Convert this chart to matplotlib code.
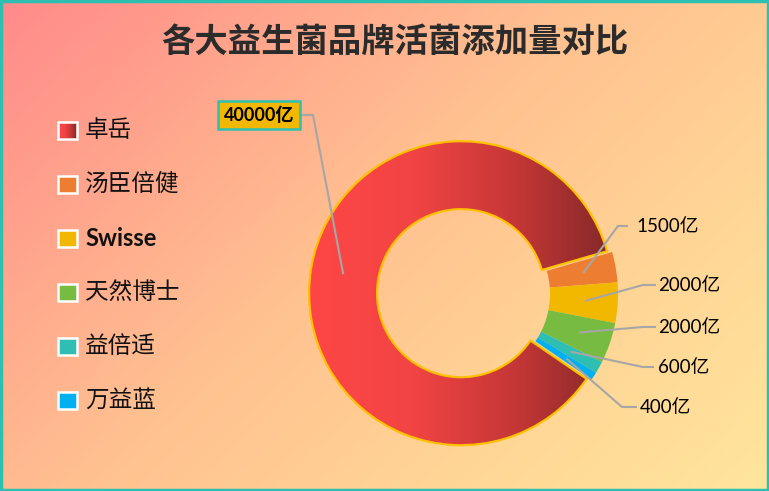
import numpy as np
import matplotlib.pyplot as plt
from matplotlib.colors import LinearSegmentedColormap
from matplotlib.patches import Rectangle

plt.rcParams['font.family'] = ['Lato', 'Noto Sans CJK SC', 'DejaVu Sans']

# --- data ---
brands = ['卓岳', '汤臣倍健', 'Swisse', '天然博士', '益倍适', '万益蓝']
counts = [40000, 1500, 2000, 2000, 600, 400]   # 亿
colors = ['#F04444', '#ED7D31', '#F2B800', '#77BB40', '#2EBFB2', '#00B0F0']
title = '各大益生菌品牌活菌添加量对比'

W, H = 769, 491
fig = plt.figure(figsize=(W / 100, H / 100), dpi=100)
ax = fig.add_axes([0, 0, 1, 1])
ax.set_axis_off()

# --- background gradient (pink top-left -> pale yellow bottom-right) ---
bg_cmap = LinearSegmentedColormap.from_list(
    'bg', [(0, '#FF8A8A'), (0.45, '#FFC090'), (0.75, '#FFD696'), (1, '#FFE69C')])
xx, yy = np.meshgrid(np.linspace(0, 1, W), np.linspace(0, 1, H))
ax.imshow(bg_cmap(0.6 * xx + 0.4 * yy), extent=(0, W, 0, H), aspect='auto', zorder=0)

# --- donut ---
cx, cy, R = 466, H - 294, 152
explode = [5, 0, 0, 0, 0, 0]
wedges, _ = ax.pie(counts, colors=colors, startangle=-34.3, counterclock=False,
                   radius=R, center=(cx, cy), explode=explode,
                   wedgeprops=dict(width=68, linewidth=0), frame=True)
for w in wedges:
    w.set_zorder(2)

# gradient fill for the big slice
red = wedges[0]
red.set_facecolor('none')
red.set_edgecolor('#FFC000')
red.set_linewidth(1.6)
red.set_zorder(4)
red_cmap = LinearSegmentedColormap.from_list(
    'red', [(0, '#FF4646'), (0.35, '#F24444'), (0.7, '#C43636'), (1, '#852929')])
grad = red_cmap(np.tile(np.linspace(0, 1, 256), (8, 1)))
rx0, rx1 = cx - R - 8, cx + R - 8
gim = ax.imshow(grad, extent=(rx0, rx1, cy - R, cy + R), aspect='auto', zorder=3)
gim.set_clip_path(red)

# --- value labels with leader lines ---
# (text x, text y from top, elbow x, elbow end x)
label_pos = [(259, 115, 313, 300), (636, 226, 618, 628), (658, 285, 643, 656),
             (658, 327, 643, 656), (658, 367, 643, 654), (640, 407, 622, 637)]
for i, (w, v) in enumerate(zip(wedges, counts)):
    tm = np.deg2rad((w.theta1 + w.theta2) / 2)
    ax_, ay_ = w.center[0] + 0.785 * R * np.cos(tm), w.center[1] + 0.785 * R * np.sin(tm)
    tx, ty, ex, hx = label_pos[i]
    ty = H - ty
    ax.plot([ax_, ex, hx], [ay_, ty, ty], color='#A6A6A6', lw=1.5, zorder=5,
            solid_capstyle='butt')
    if i == 0:
        ax.text(tx, ty, f'{v}亿', ha='center', va='center', fontsize=13,
                fontweight='bold', color='black', zorder=6,
                bbox=dict(boxstyle='square,pad=0.3', fc='#F2B800', ec='#2EBFB2', lw=1.8))
    else:
        ax.text(tx, ty, f'{v}亿', ha='left', va='center', fontsize=13.5,
                color='black', zorder=6)

# --- legend ---
for i, (name, c) in enumerate(zip(brands, colors)):
    ly = H - (130 + 54 * i)
    if i == 0:
        ax.imshow(red_cmap(np.tile(np.linspace(0, 1, 32), (4, 1))),
                  extent=(58, 77, ly - 8.5, ly + 8.5), aspect='auto', zorder=3)
        ax.add_patch(Rectangle((58, ly - 8.5), 19, 17, fc='none', ec='white', lw=1.8, zorder=4))
    else:
        ax.add_patch(Rectangle((58, ly - 8.5), 19, 17, fc=c, ec='white', lw=1.8, zorder=4))
    ax.text(85, ly, name, ha='left', va='center', fontsize=17,
            fontweight='bold' if name == 'Swisse' else 'normal',
            color='#111111', zorder=5)

# --- title ---
ax.text(395, H - 42, title, ha='center', va='center', fontsize=24,
        fontweight='bold', color='#2B2B2B', family=['Noto Sans CJK SC'], zorder=5)

# --- border ---
ax.add_patch(Rectangle((1, 1), W - 2, H - 2, fc='none', ec='#2DBFAF', lw=2.5, zorder=10))

ax.set_xlim(0, W)
ax.set_ylim(0, H)
ax.set_aspect('auto')
fig.savefig('out.png', dpi=100)
